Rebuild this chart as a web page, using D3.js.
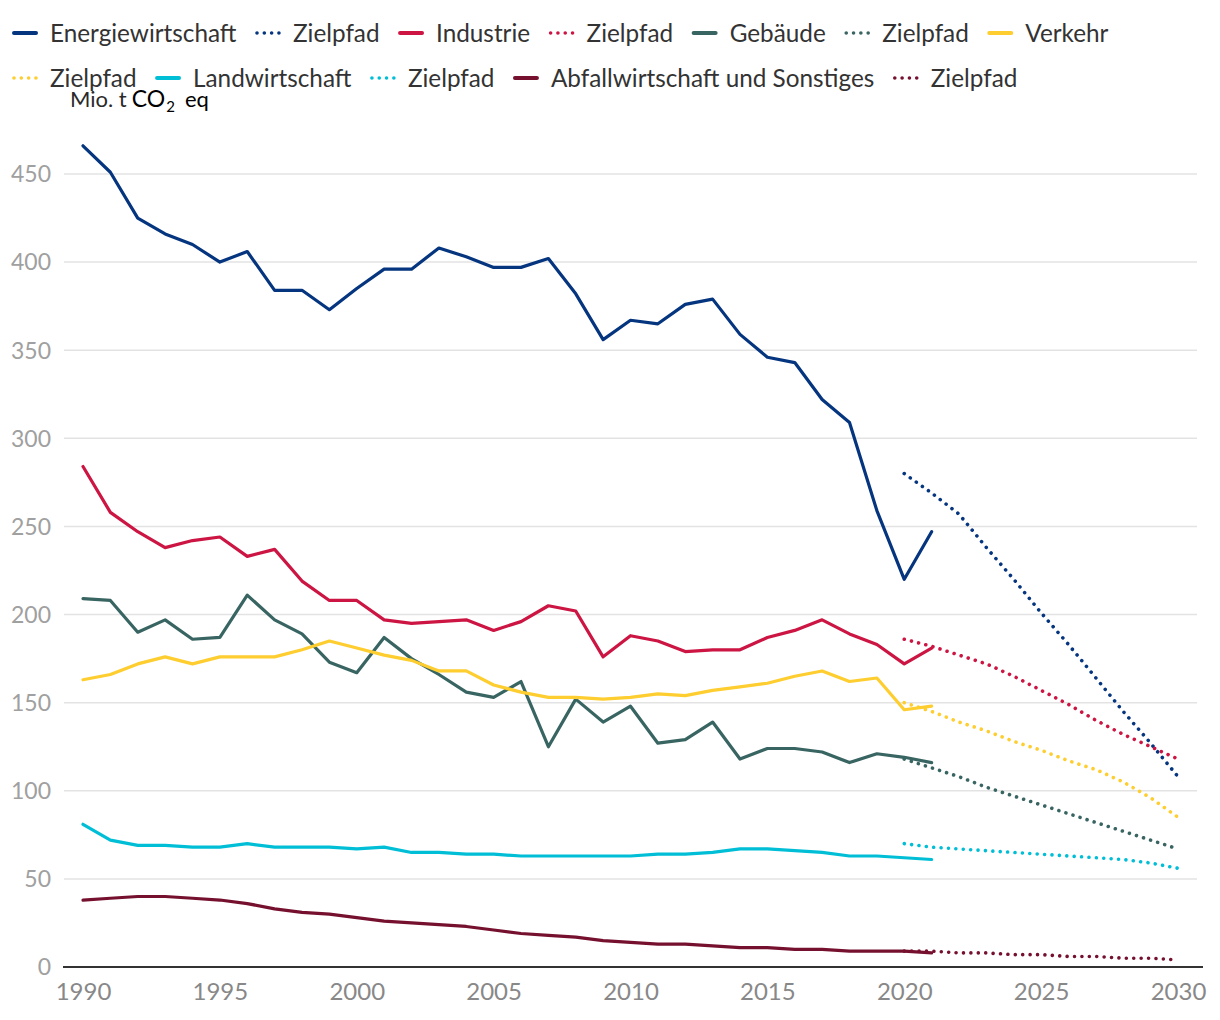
<!DOCTYPE html>
<html>
<head>
<meta charset="utf-8">
<script src="https://cdn.jsdelivr.net/npm/d3@7"></script>
<style>
  html, body { margin: 0; padding: 0; background: #fff; }
  svg { display: block; font-family: Lato, "Noto Sans", sans-serif; }
</style>
</head>
<body>
<svg id="chart" width="1220" height="1020"></svg>
<script>
// ---- data ----
const years = d3.range(1990, 2022);
const targetYears = d3.range(2020, 2031);

const energie = [466,451,425,416,410,400,406,384,384,373,385,396,396,408,403,397,397,402,382,356,367,365,376,379,359,346,343,322,309,259,220,247];
const industrie = [284,258,247,238,242,244,233,237,219,208,208,197,195,196,197,191,196,205,202,176,188,185,179,180,180,187,191,197,189,183,172,181];
const gebaeude = [209,208,190,197,186,187,211,197,189,173,167,187,175,166,156,153,162,125,152,139,148,127,129,139,118,124,124,122,116,121,119,116];
const verkehr = [163,166,172,176,172,176,176,176,180,185,181,177,174,168,168,160,156,153,153,152,153,155,154,157,159,161,165,168,162,164,146,148];
const landwirtschaft = [81,72,69,69,68,68,70,68,68,68,67,68,65,65,64,64,63,63,63,63,63,64,64,65,67,67,66,65,63,63,62,61];
const abfall = [38,39,40,40,39,38,36,33,31,30,28,26,25,24,23,21,19,18,17,15,14,13,13,12,11,11,10,10,9,9,9,8];

const zielEnergie = [280,269,257,238,220,201,183,164,145,127,108];
const zielIndustrie = [186,182,177,172,165,157,149,140,132,125,118];
const zielGebaeude = [118,113,108,102,97,92,87,82,77,72,67];
const zielVerkehr = [150,145,139,134,128,123,117,112,105,96,85];
const zielLandwirtschaft = [70,68,67,66,65,64,63,62,61,59,56];
const zielAbfall = [9,9,8,8,7,7,6,6,5,5,4];

const seriesNames = ["Energiewirtschaft","Industrie","Gebäude","Verkehr","Landwirtschaft","Abfallwirtschaft und Sonstiges"];
const targetLabel = "Zielpfad";
const yTicks = [0,50,100,150,200,250,300,350,400,450];
const xTicks = [1990,1995,2000,2005,2010,2015,2020,2025,2030];
const yTitle = ["Mio. t", "CO", "2", "eq"];

const colors = ["#05357f","#cc1542","#386562","#fecd2f","#00bed6","#76102f"];
const actual = [energie, industrie, gebaeude, verkehr, landwirtschaft, abfall];
const targets = [zielEnergie, zielIndustrie, zielGebaeude, zielVerkehr, zielLandwirtschaft, zielAbfall];

// ---- chart ----
const svg = d3.select("#chart");
const x = d3.scaleLinear().domain([1990, 2030]).range([83, 1178]);
const y = d3.scaleLinear().domain([0, 450]).range([967, 174]);

// gridlines
svg.append("g").selectAll("line").data(yTicks.filter(d => d > 0)).join("line")
  .attr("x1", 64).attr("x2", 1197)
  .attr("y1", d => y(d)).attr("y2", d => y(d))
  .attr("stroke", "#e3e3e3").attr("stroke-width", 1.5);

// y labels
svg.append("g").selectAll("text").data(yTicks).join("text")
  .attr("x", 51).attr("y", d => y(d)).attr("dy", "0.36em")
  .attr("text-anchor", "end").attr("font-size", 23).attr("fill", "#a0a0a0")
  .text(d => d);

// x axis
const xAxis = d3.axisBottom(x).tickValues(xTicks).tickFormat(d3.format("d")).tickSize(0).tickPadding(16);
const gx = svg.append("g").attr("transform", `translate(0,${y(0)})`).call(xAxis);
gx.select(".domain").remove();
gx.selectAll("text").attr("font-size", 24).attr("fill", "#888").attr("font-family", "Lato, sans-serif");
svg.append("line").attr("x1", 63).attr("x2", 1203).attr("y1", y(0)).attr("y2", y(0))
  .attr("stroke", "#333").attr("stroke-width", 2);

// y title
const yt = svg.append("text").attr("x", 70).attr("y", 107).attr("font-size", 22).attr("fill", "#2a2a2a");
yt.append("tspan").text(yTitle[0]);
yt.append("tspan").attr("fill", "#000").attr("font-size", 23).attr("dx", 5).text(yTitle[1]);
yt.append("tspan").attr("font-size", 15).attr("dy", 5).attr("dx", 1).attr("fill", "#000").text(yTitle[2]);
yt.append("tspan").attr("dy", -5).attr("dx", 10).attr("font-size", 22).attr("fill", "#000").text(yTitle[3]);

const line = d3.line().x(d => x(d[0])).y(d => y(d[1]));

actual.forEach((vals, i) => {
  svg.append("path").datum(years.map((yr, j) => [yr, vals[j]]))
    .attr("d", line).attr("fill", "none").attr("stroke", colors[i])
    .attr("stroke-width", 3.2).attr("stroke-linejoin", "round").attr("stroke-linecap", "round");
});
targets.forEach((vals, i) => {
  svg.append("path").datum(targetYears.map((yr, j) => [yr, vals[j]]))
    .attr("d", line).attr("fill", "none").attr("stroke", colors[i])
    .attr("stroke-width", 3.6).attr("stroke-dasharray", "0.01 7.4").attr("stroke-linecap", "round");
});

// legend
const legendItems = [];
seriesNames.forEach((n, i) => {
  legendItems.push({label: n, color: colors[i], dotted: false});
  legendItems.push({label: targetLabel, color: colors[i], dotted: true});
});
const lg = svg.append("g");
let lx = 12, ly = 33;
legendItems.forEach(it => {
  const g = lg.append("g");
  const t = g.append("text").attr("font-size", 24.3).attr("fill", "#333").attr("dy", "0.35em").text(it.label);
  const w = t.node().getComputedTextLength();
  if (lx + 38 + w > 1215) { lx = 12; ly += 45; }
  g.attr("transform", `translate(${lx},${ly})`);
  t.attr("x", 38);
  g.append("line").attr("x1", 2).attr("x2", 24).attr("y1", 0).attr("y2", 0)
    .attr("stroke", it.color).attr("stroke-width", it.dotted ? 3.6 : 4)
    .attr("stroke-linecap", "round")
    .attr("stroke-dasharray", it.dotted ? "0.01 7.3" : null);
  lx += 38 + w + 18.5;
});
</script>
</body>
</html>
